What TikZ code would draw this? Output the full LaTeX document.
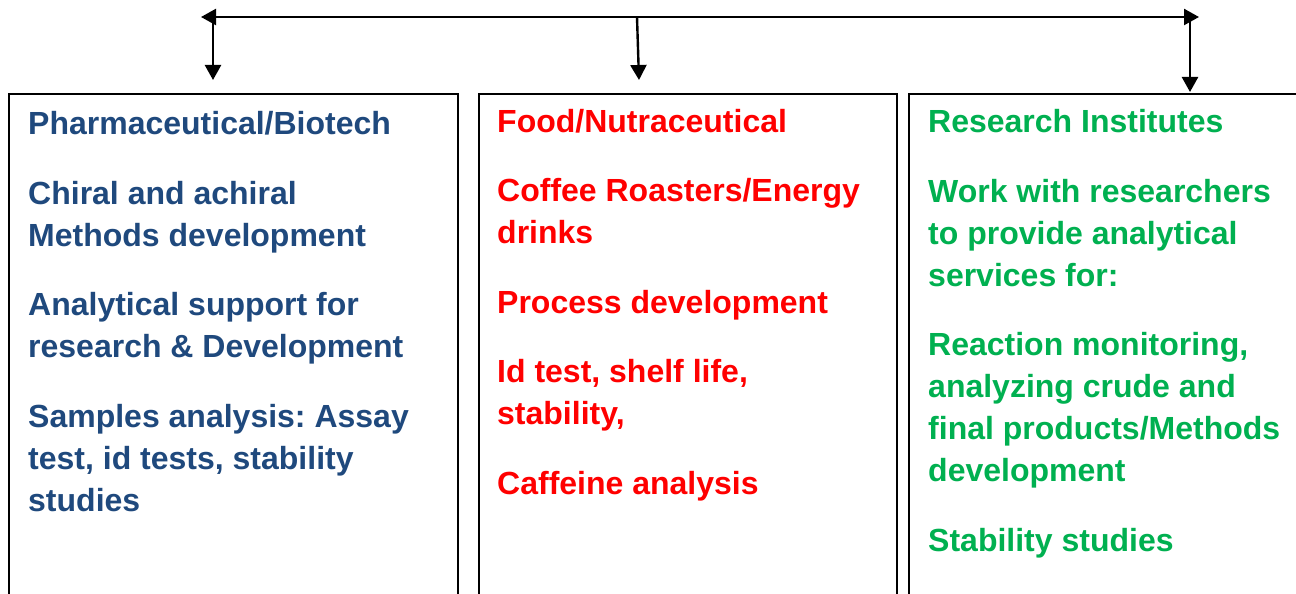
\documentclass[tikz,border=0pt]{standalone}
\usepackage{fontspec}
\setmainfont{Liberation Sans}
\usepackage{tikz}
\usetikzlibrary{arrows.meta}
\frenchspacing
\definecolor{pharmablue}{HTML}{1F497D}
\definecolor{foodred}{HTML}{FF0000}
\definecolor{instgreen}{HTML}{00B050}
\tikzset{sector/.style={draw, line width=1.6pt, rectangle, anchor=north west, minimum height=540, inner sep=0}}
\tikzset{blurb/.style={anchor=base west, align=left, inner sep=0, font=\bfseries\fontsize{32}{42}\selectfont, text=#1}}
\tikzset{feed/.style={line width=2.4pt, -{Triangle[length=15pt,width=16pt]}}}
\tikzset{spine/.style={line width=2.4pt, {Triangle[length=15pt,width=16pt]}-{Triangle[length=15pt,width=16pt]}}}
\begin{document}
\begin{tikzpicture}
[x=1pt, y=-1pt]
\useasboundingbox (0,0) rectangle (1296,594);
\clip (0,0) rectangle (1296,594);
%the three sectors, cut off at the bottom edge
\node (pharma) at (8,93)[sector, minimum width=449]{};
\node (food) at (478,93)[sector, minimum width=418]{};
\node (inst) at (908,93)[sector, minimum width=410]{};
%texts sit on the baseline of their last line
\node (pharmatxt) at (28,511)[blurb=pharmablue]{Pharmaceutical/Biotech\\[27.5pt]
Chiral and achiral\\ Methods development\\[27.5pt]
Analytical support for\\ research \& Development\\[27.5pt]
Samples analysis: Assay\\ test, id tests, stability\\ studies};
\node (foodtxt) at (497,494)[blurb=foodred]{Food/Nutraceutical\\[27.5pt]
Coffee Roasters/Energy\\ drinks\\[27.5pt]
Process development\\[27.5pt]
Id test, shelf life,\\ stability,\\[27.5pt]
Caffeine analysis};
\node (insttxt) at (928,551)[blurb=instgreen]{Research Institutes\\[27.5pt]
Work with researchers\\ to provide analytical\\ services for:\\[27.5pt]
Reaction monitoring,\\ analyzing crude and\\ final products/Methods\\ development\\[27.5pt]
Stability studies};
%top bar and the drops
\coordinate (west) at (201,17);
\coordinate (east) at (1199,17);
\coordinate (pharmadrop) at (213,17);
\coordinate (fooddrop) at (637,17);
\coordinate (instdrop) at (1190,17);
\coordinate (pharmatip) at (213,80);
\coordinate (foodtip) at (639,80);
\coordinate (insttip) at (1190,92);
\draw[spine] (west)--(east);
\draw[feed] (pharmadrop)--(pharmatip);
\draw[feed] (fooddrop)--(foodtip);
\draw[feed] (instdrop)--(insttip);
\end{tikzpicture}
\end{document}
